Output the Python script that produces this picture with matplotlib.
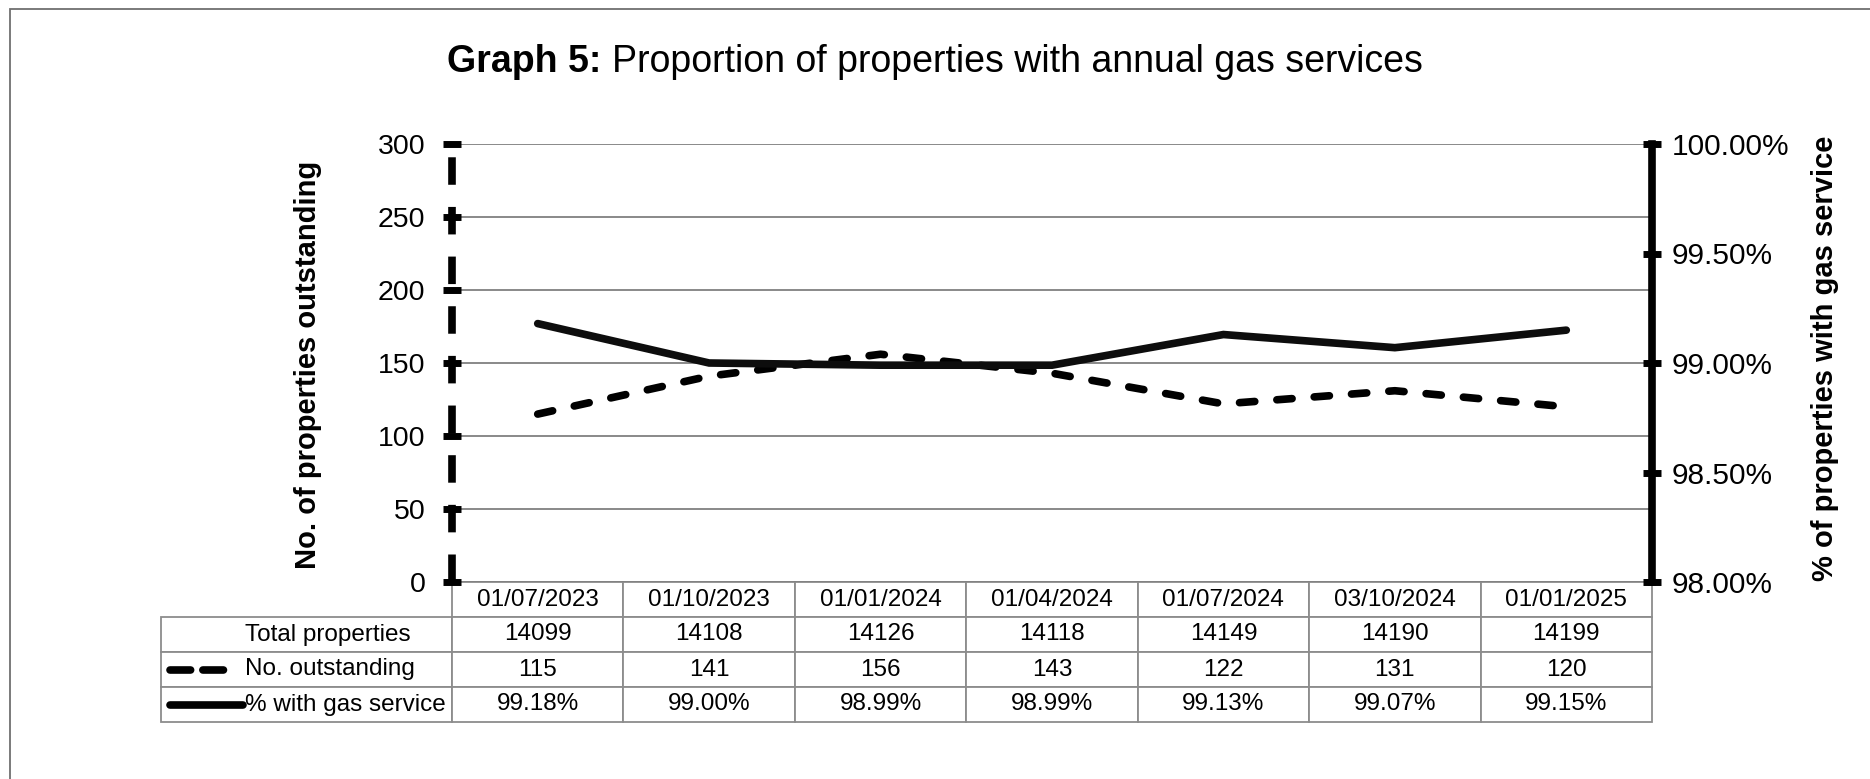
import matplotlib
matplotlib.use("Agg")
import matplotlib.pyplot as plt
from matplotlib.table import Table
from matplotlib.patches import Rectangle
from matplotlib.ticker import FuncFormatter

plt.rcParams['font.family'] = ['Liberation Sans', 'DejaVu Sans']

# data
dates = ['01/07/2023', '01/10/2023', '01/01/2024', '01/04/2024',
         '01/07/2024', '03/10/2024', '01/01/2025']
total_props = [14099, 14108, 14126, 14118, 14149, 14190, 14199]
outstanding = [115, 141, 156, 143, 122, 131, 120]
pct_service = [99.18, 99.00, 98.99, 98.99, 99.13, 99.07, 99.15]
row_labels = ['Total properties', 'No. outstanding', '% with gas service']

W, H = 1870, 779
fig = plt.figure(figsize=(W / 100, H / 100), dpi=100)

# layout in pixels
ax_l, ax_r, ax_t, ax_b = 452, 1652, 144, 582
ax = fig.add_axes([ax_l / W, 1 - ax_b / H, (ax_r - ax_l) / W, (ax_b - ax_t) / H])
ax2 = ax.twinx()


def ax_xy(px, py):
    """pixel position -> axes fraction of main axes"""
    return (px - ax_l) / (ax_r - ax_l), (ax_b - py) / (ax_b - ax_t)


LW = 5.5
DASH = (0, (2.0, 2.9))
x = range(len(dates))
ax.plot(x, outstanding, color='black', lw=LW, linestyle=DASH,
        dash_capstyle='round', zorder=3)
ax2.plot(x, pct_service, color='#0d0d0d', lw=LW, solid_capstyle='round',
         solid_joinstyle='miter', zorder=3)

ax.set_xlim(-0.5, len(dates) - 0.5)
ax.set_ylim(0, 300)
ax.set_yticks(range(0, 301, 50))
ax2.set_ylim(98.0, 100.0)
ax2.set_yticks([98.0, 98.5, 99.0, 99.5, 100.0])
ax2.yaxis.set_major_formatter(FuncFormatter(lambda v, p: f'{v:.2f}%'))
ax.set_xticks([])

ax.grid(axis='y', color='#808080', lw=1.3)
ax.set_axisbelow(True)
for a in (ax, ax2):
    for s in ('top', 'bottom'):
        a.spines[s].set_visible(False)
ax.spines['right'].set_visible(False)
ax2.spines['left'].set_visible(False)
ax.spines['left'].set_linewidth(5.5)
ax.spines['left'].set_linestyle((0, (3.6, 2.9)))
ax.spines['left'].set_capstyle('butt')
ax2.spines['right'].set_linewidth(5.5)

ax.tick_params(axis='y', direction='inout', length=12.5, width=5,
               labelsize=20.5, pad=13)
ax2.tick_params(axis='y', direction='inout', length=12.5, width=5,
                labelsize=21.5, pad=8)

fig.text(308 / W, 1 - 365 / H, 'No. of properties outstanding', rotation=90,
         ha='center', va='center', fontsize=21, fontweight='bold')
fig.text(1825 / W, 1 - 358 / H, '% of properties with gas service', rotation=90,
         ha='center', va='center', fontsize=21, fontweight='bold')

# title: bold prefix + regular text
t1 = fig.text(447 / W, 1 - 72 / H, 'Graph 5: ', fontsize=27, fontweight='bold',
              va='baseline', ha='left')
ax.annotate('Proportion of properties with annual gas services',
            xy=(1, 0), xycoords=t1, va='bottom', ha='left', fontsize=27,
            annotation_clip=False)

# data table under the plot (widths/heights in axes fraction)
tab_l, tab_t, row_h_px = 161, 582, 35
col_w = 1 / len(dates)
lab_w = (ax_l - tab_l) / (ax_r - ax_l)
row_h = row_h_px / (ax_b - ax_t)
n_rows = 4
# bbox covers the data columns only; the label column hangs off to the left
tbl = Table(ax, bbox=[0, -n_rows * row_h, 1, n_rows * row_h])
cells = [[str(v) for v in total_props],
         [str(v) for v in outstanding],
         [f'{v:.2f}%' for v in pct_service]]
for j, d in enumerate(dates):
    tbl.add_cell(0, j, width=col_w, height=row_h, text=d, loc='center')
for i, row in enumerate(cells):
    tbl.add_cell(i + 1, -1, width=lab_w, height=row_h, text='', loc='left')
    for j, v in enumerate(row):
        tbl.add_cell(i + 1, j, width=col_w, height=row_h, text=v, loc='center')
tbl.auto_set_font_size(False)
tbl.set_fontsize(17.5)
ax.add_table(tbl)
tbl.set_clip_on(False)
for c in tbl.get_celld().values():
    c.set_edgecolor('#8c8c8c')
    c.set_linewidth(1.3)
    c.set_clip_on(False)
    c.get_text().set_clip_on(False)

for i, lab in enumerate(row_labels):
    yc = tab_t + (i + 1.5) * row_h_px
    ax.text(*ax_xy(245, yc), lab, transform=ax.transAxes, ha='left',
            va='center', fontsize=17.5)

# legend keys inside the table
ky = ax_xy(0, tab_t + 2.5 * row_h_px)[1]
ax.plot([ax_xy(170, 0)[0], ax_xy(232, 0)[0]], [ky, ky], transform=ax.transAxes,
        color='black', lw=LW, linestyle=(0, (2.7, 1.6)), dash_capstyle='round',
        clip_on=False)
ky = ax_xy(0, tab_t + 3.5 * row_h_px)[1]
ax.plot([ax_xy(170, 0)[0], ax_xy(243, 0)[0]], [ky, ky], transform=ax.transAxes,
        color='black', lw=LW, solid_capstyle='round', clip_on=False)

# outer frame
fig.patches.append(Rectangle((10 / W, -0.05), 1.1, 1 - 8.5 / H + 0.05,
                             transform=fig.transFigure, fill=False,
                             edgecolor='#707070', lw=1.3))

fig.savefig('out.png', dpi=100)
